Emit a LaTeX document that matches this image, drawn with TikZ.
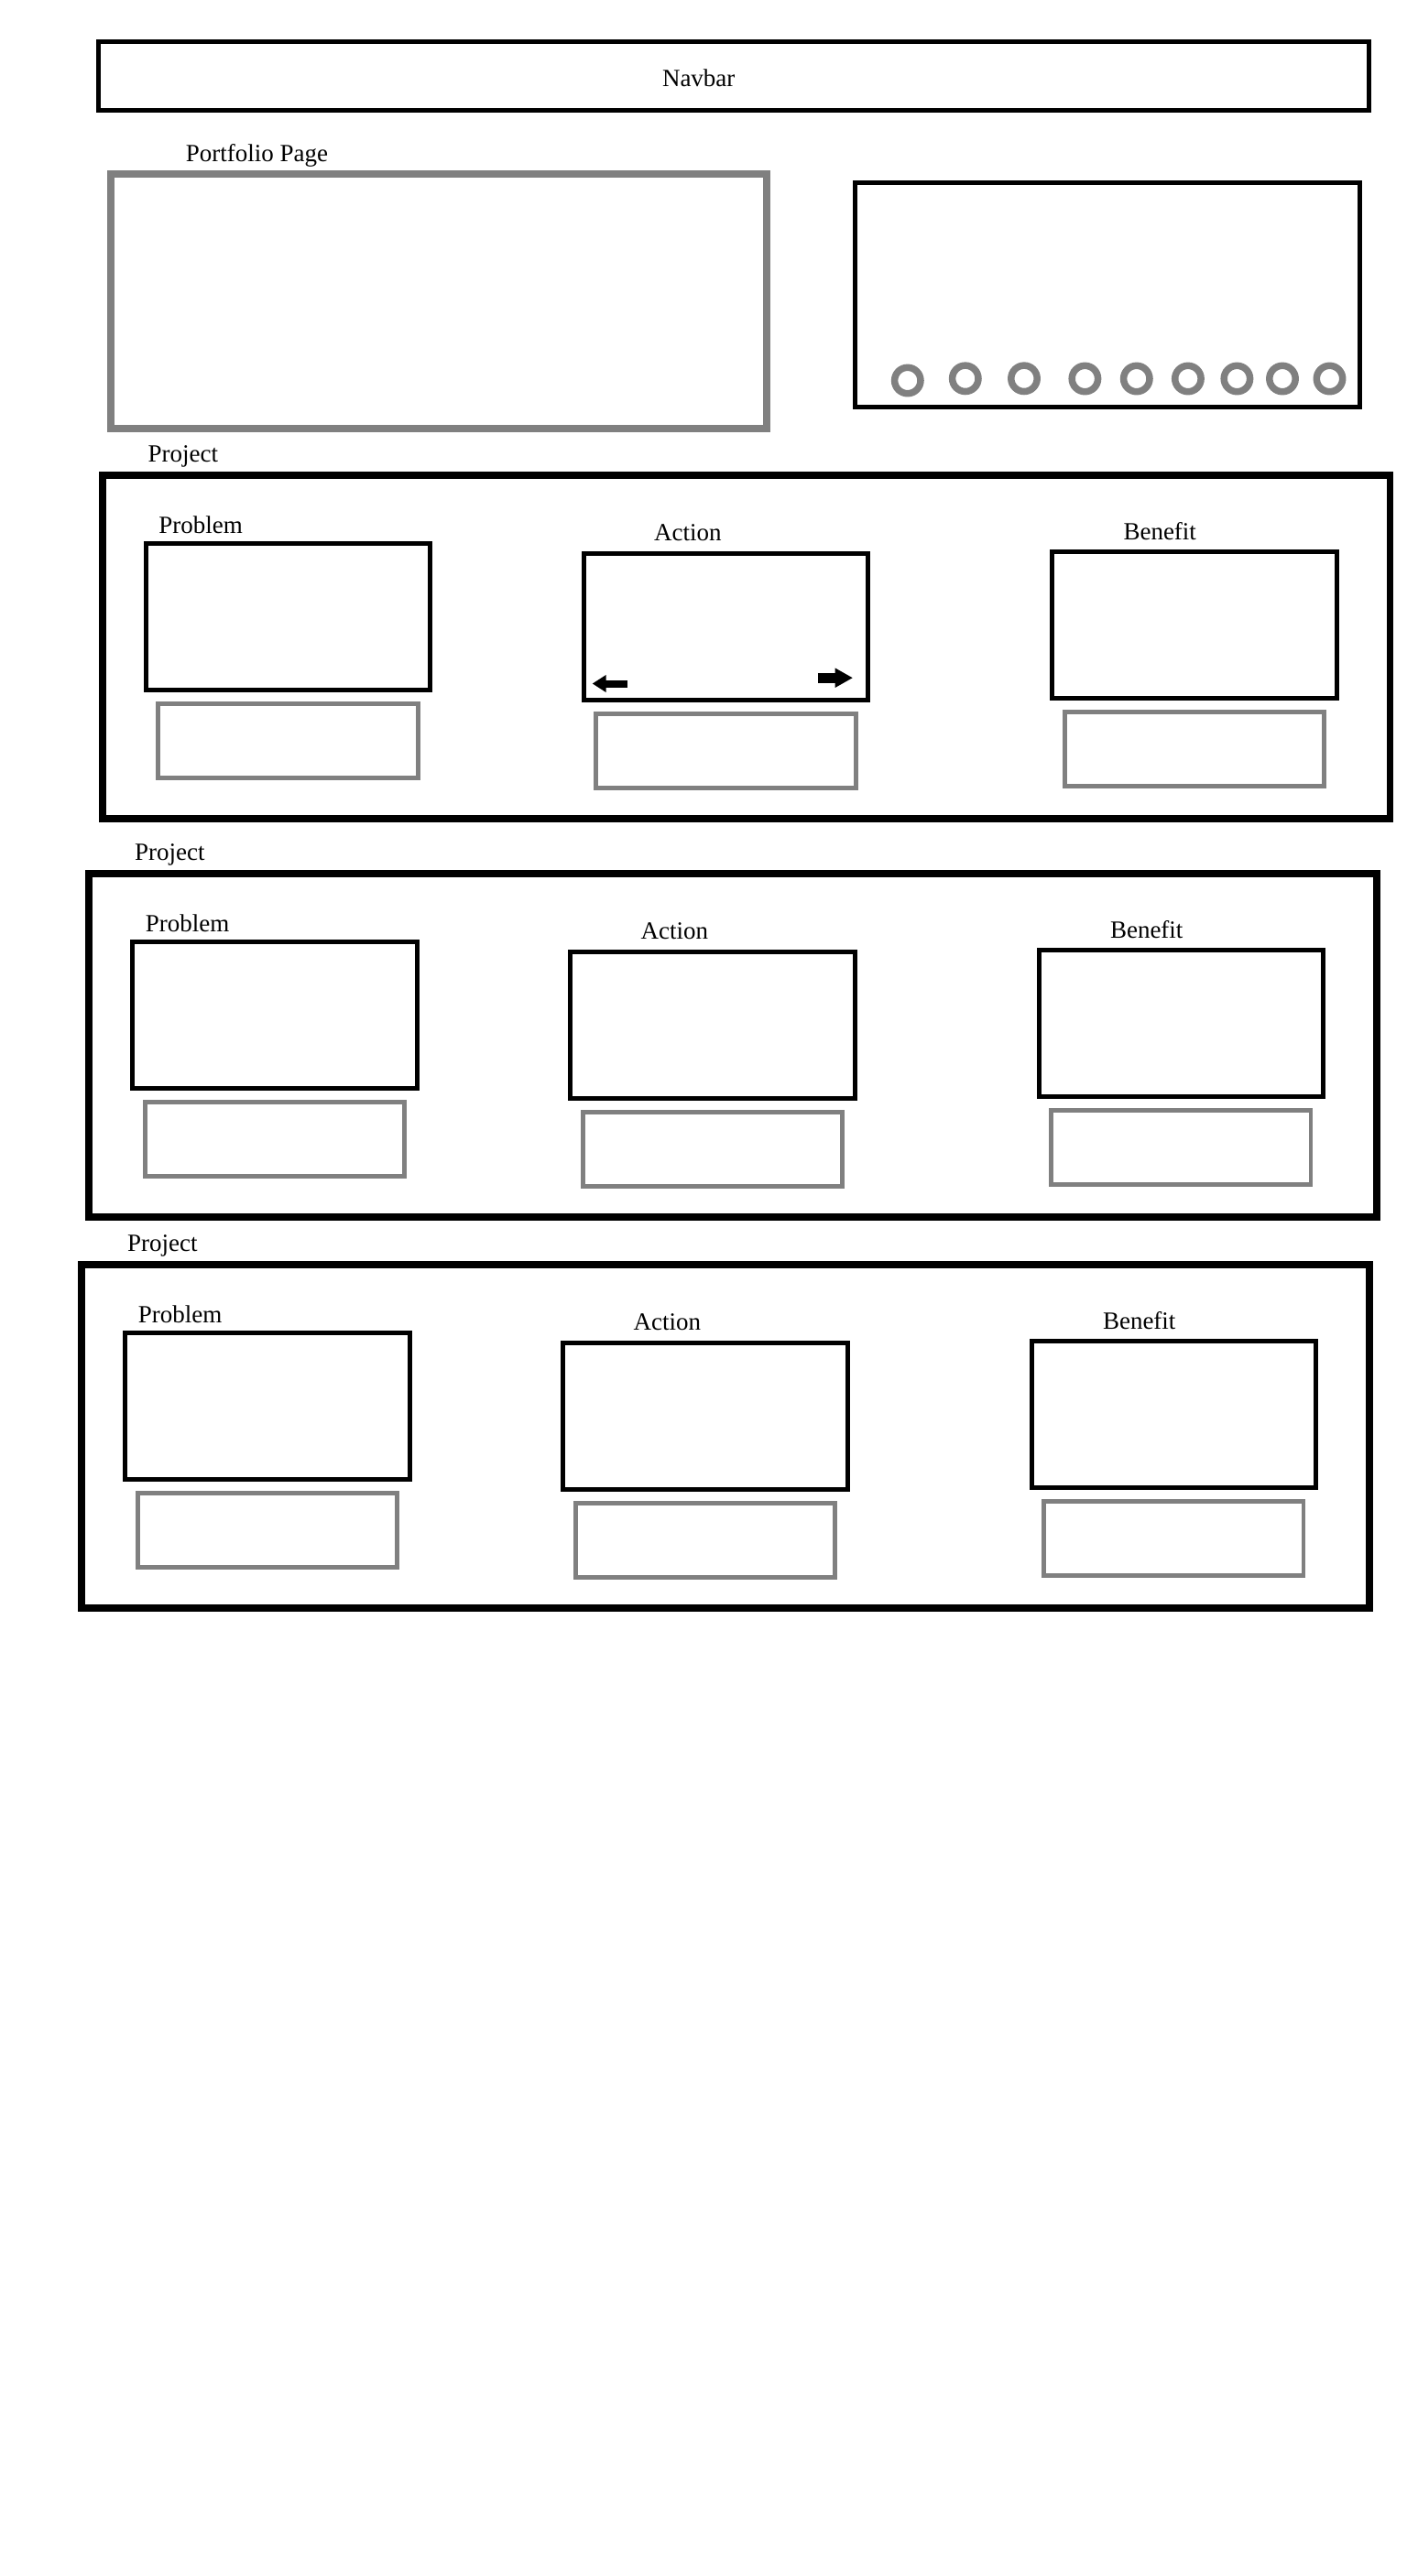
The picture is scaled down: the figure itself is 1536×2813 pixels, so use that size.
\documentclass[tikz,border=0pt]{standalone}
\usepackage{fontspec}
\setmainfont{Liberation Serif}
\usetikzlibrary{positioning,arrows.meta}

\begin{document}
\begin{tikzpicture}[x=0.5pt,y=-0.5pt,inner sep=0pt,outer sep=0pt,
font=\fontsize{13.5}{16}\selectfont,
framebox/.style={draw,rectangle,line width=2.5pt},
projbox/.style={draw,rectangle,line width=3.85pt,minimum width=702.9pt,minimum height=187.6pt},
viewbox/.style={draw,rectangle,line width=2.5pt,minimum width=155.25pt,minimum height=80pt},
capbox/.style={draw=gray,rectangle,line width=2.35pt,minimum width=141.7pt,minimum height=40.5pt},
dot/.style={draw=gray,circle,line width=3.75pt,minimum size=14.2pt},
title/.style={anchor=base west},
navarrow/.style={line width=4pt,-{Triangle[length=7.5pt,width=9pt]}}]

\useasboundingbox (0,0) rectangle (1536,2813);

\draw (800.85,83) node[framebox,minimum width=693.55pt,minimum height=37.2pt] (nav) {};
\node[title] (navtext) at (723,94) {Navbar};

\node[title] (pagetext) at (202.8,176.7) {Portfolio Page};
\draw (479,328.85) node[draw=gray,rectangle,line width=4pt,minimum width=358.45pt,minimum height=138.85pt] (hero) {};
\draw (1208.75,321.7) node[framebox,minimum width=275.75pt,minimum height=122.5pt] (slider) {};
\foreach \x/\y [count=\k] in {990.8/415.5,1053.8/413.3,1118/413.3,1184.4/413.5,1240.8/413.5,1296.9/413.5,1350.4/413.5,1400/413.5,1451.5/413.5}
  \node[dot] (dot\k) at (\x,\y) {};

\foreach \dx/\dy/\i in {0/0/1,-14.5/435/2,-22.5/862/3}{
\begin{scope}[shift={(\dx,\dy)}]
\node[projbox] (proj\i) at (814.6,706.4) {};
\node[title] (projtext\i) at (161.6,504) {Project};
\node[title] (probtext\i) at (173.4,582.3) {Problem};
\node[title] (acttext\i) at (714.2,590.5) {Action};
\node[title] (bentext\i) at (1226.5,589) {Benefit};
\node[viewbox] (prob\i) at (314.5,673.5) {};
\node[viewbox] (act\i) at (792.5,684.4) {};
\node[viewbox] (ben\i) at (1303.9,682.5) {};
\node[capbox,below=7.45pt of prob\i] (probcap\i) {};
\node[capbox,below=7.45pt of act\i] (actcap\i) {};
\node[capbox,below=7.45pt of ben\i] (bencap\i) {};
\end{scope}}

\coordinate (prevtail) at ([shift={(23.85pt,8.95pt)}]act1.south west);
\coordinate (prevtip) at ([shift={(4.7pt,8.95pt)}]act1.south west);
\coordinate (nexttail) at ([shift={(-27.5pt,12.1pt)}]act1.south east);
\coordinate (nexttip) at ([shift={(-8.35pt,12.1pt)}]act1.south east);
\draw[navarrow] (prevtail) -- (prevtip);
\draw[navarrow,line width=5.5pt,-{Triangle[length=9.7pt,width=10pt]}] (nexttail) -- (nexttip);
\end{tikzpicture}
\end{document}
